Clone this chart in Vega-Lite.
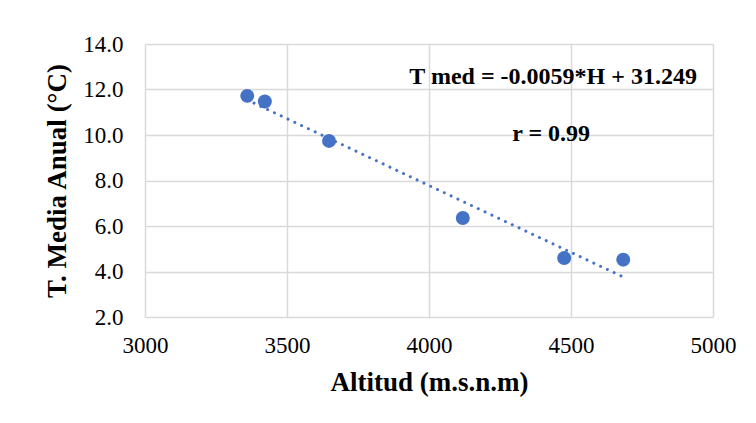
{
  "$schema": "https://vega.github.io/schema/vega-lite/v6.json",
  "width": 568,
  "height": 273,
  "autosize": {"type": "none"},
  "padding": {"left": 145, "top": 44, "right": 43, "bottom": 106},
  "background": "white",
  "config": {
    "view": {"stroke": null},
    "font": "Liberation Serif",
    "axis": {
      "domain": false,
      "ticks": false,
      "grid": true,
      "gridColor": "#d9d9d9",
      "gridWidth": 1.5,
      "labelFlush": false,
      "labelFont": "Liberation Serif",
      "labelFontSize": 23,
      "labelColor": "#000000",
      "titleFont": "Liberation Serif",
      "titleFontSize": 27,
      "titleFontWeight": "bold",
      "titleColor": "#000000"
    }
  },
  "datasets": {
    "estaciones": [
      {"altitud": 3360, "tmed": 11.72},
      {"altitud": 3422, "tmed": 11.47},
      {"altitud": 3648, "tmed": 9.74},
      {"altitud": 4119, "tmed": 6.35},
      {"altitud": 4476, "tmed": 4.59},
      {"altitud": 4684, "tmed": 4.52}
    ],
    "anotaciones": [
      {"altitud": 4437, "tmed": 12.55, "texto": "T med = -0.0059*H + 31.249"},
      {"altitud": 4430, "tmed": 10.05, "texto": "r = 0.99"}
    ]
  },
  "layer": [
    {
      "data": {"name": "estaciones"},
      "transform": [{"regression": "tmed", "on": "altitud"}],
      "mark": {"type": "line", "color": "#4472C4", "strokeWidth": 3, "strokeCap": "round", "strokeDash": [0.01, 7.5]},
      "encoding": {
        "x": {"field": "altitud", "type": "quantitative"},
        "y": {"field": "tmed", "type": "quantitative"}
      }
    },
    {
      "data": {"name": "estaciones"},
      "mark": {"type": "circle", "color": "#4472C4", "opacity": 1, "size": 195},
      "encoding": {
        "x": {
          "field": "altitud", "type": "quantitative",
          "scale": {"domain": [3000, 5000], "nice": false, "zero": false},
          "axis": {"values": [3000, 3500, 4000, 4500, 5000], "format": "d", "labelFlush": false, "labelPadding": 17, "titlePadding": 12, "title": "Altitud (m.s.n.m)"}
        },
        "y": {
          "field": "tmed", "type": "quantitative",
          "scale": {"domain": [2, 14], "nice": false, "zero": false},
          "axis": {"values": [2, 4, 6, 8, 10, 12, 14], "format": ".1f", "labelFlush": false, "labelPadding": 22, "titlePadding": 11, "title": "T. Media Anual (°C)"}
        }
      }
    },
    {
      "data": {"name": "anotaciones"},
      "mark": {"type": "text", "font": "Liberation Serif", "fontSize": 24, "fontWeight": "bold", "color": "#000000", "align": "center", "baseline": "middle"},
      "encoding": {
        "x": {"field": "altitud", "type": "quantitative"},
        "y": {"field": "tmed", "type": "quantitative"},
        "text": {"field": "texto"}
      }
    }
  ]
}
